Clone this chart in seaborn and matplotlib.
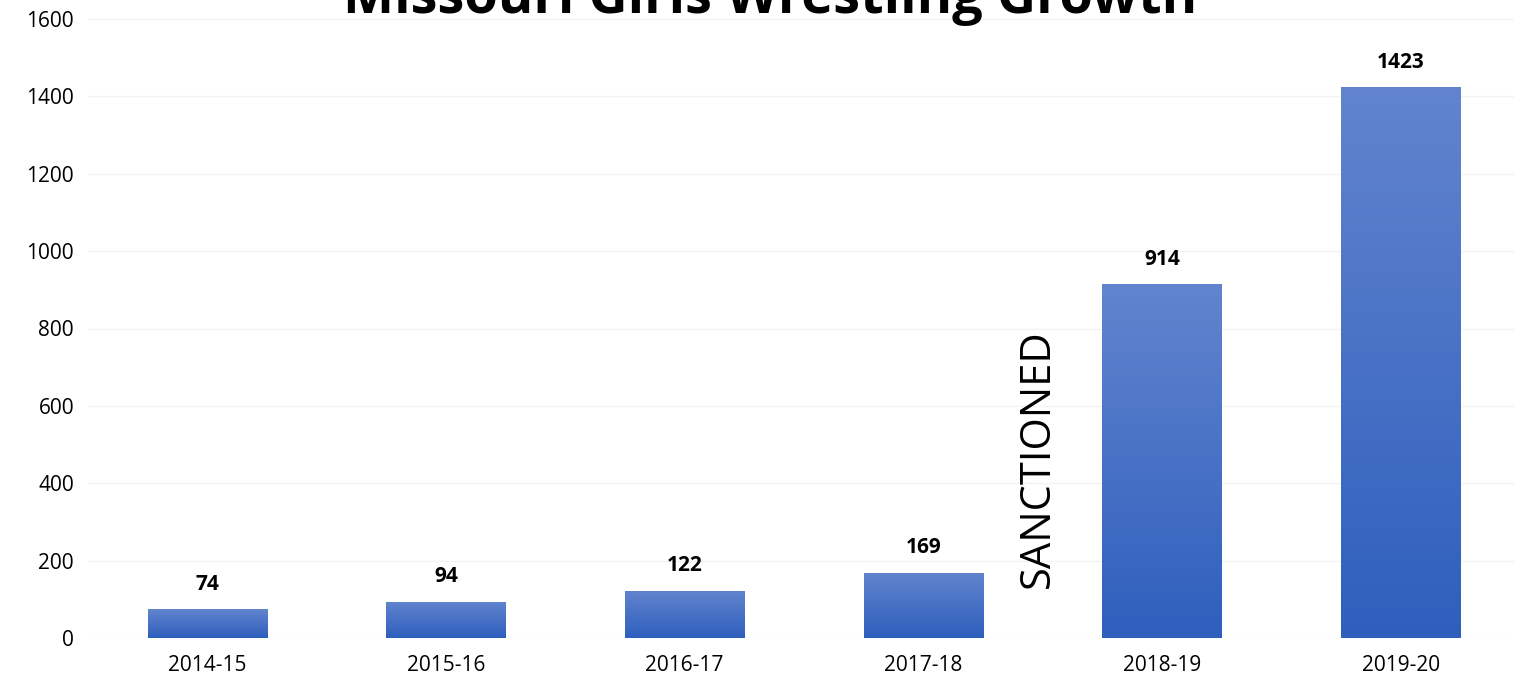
import numpy as np
import matplotlib
matplotlib.use("Agg")
import matplotlib.pyplot as plt
import seaborn as sns
from matplotlib.colors import LinearSegmentedColormap

seasons = ["2014-15", "2015-16", "2016-17", "2017-18", "2018-19", "2019-20"]
participants = [74, 94, 122, 169, 914, 1423]
y_ticks = [0, 200, 400, 600, 800, 1000, 1200, 1400, 1600]
title = "Missouri Girls Wrestling Growth"
note = "SANCTIONED"

sns.set_theme(style="white")
plt.rcParams["font.family"] = ["Open Sans", "DejaVu Sans"]

W, H = 1514, 685
fig = plt.figure(figsize=(W / 100, H / 100), dpi=100)
left, right, bottom, top = 88, 1520, 638, 19
ax = fig.add_axes([left / W, 1 - bottom / H, (right - left) / W, (bottom - top) / H])

sns.barplot(x=seasons, y=participants, color="#4472C4", width=0.5, ax=ax, zorder=2)

cmap = LinearSegmentedColormap.from_list("g", ["#2E5FBD", "#6284CE"])
grad = np.linspace(0, 1, 256).reshape(-1, 1)
for p in list(ax.patches):
    x0, y0, w, h = p.get_x(), p.get_y(), p.get_width(), p.get_height()
    p.set_facecolor("none")
    p.set_edgecolor("none")
    im = ax.imshow(grad, cmap=cmap, origin="lower", aspect="auto",
                   extent=[x0, x0 + w, y0, y0 + h], zorder=2)
    im.set_clip_path(p)

for i, v in enumerate(participants):
    ax.annotate(f"{v}", (i, v), xytext=(0, 18), textcoords="offset points",
                ha="center", va="center", fontsize=15, fontweight="bold", color="black")

ax.set_xlim(-0.5, len(seasons) - 0.5)
ax.set_ylim(y_ticks[0], y_ticks[-1])
ax.set_yticks(y_ticks)
ax.set_yticklabels([str(t) for t in y_ticks])
ax.grid(axis="y", color="#F3F3F3", linewidth=1, zorder=0)
ax.grid(axis="x", visible=False)
ax.set_axisbelow(True)
for s in ax.spines.values():
    s.set_visible(False)
ax.tick_params(axis="both", length=0, labelsize=15, colors="black", pad=10)
ax.tick_params(axis="x", pad=12)
ax.set_xlabel("")
ax.set_ylabel("")

ax.text(3.48, 130, note, rotation=90, ha="center", va="bottom", fontsize=30, color="black")

fig.text(770 / W, 1 - 13 / H, title, ha="center", va="baseline",
         fontsize=39, fontweight="bold", color="black")

fig.savefig("out.png", dpi=100, facecolor="white")
